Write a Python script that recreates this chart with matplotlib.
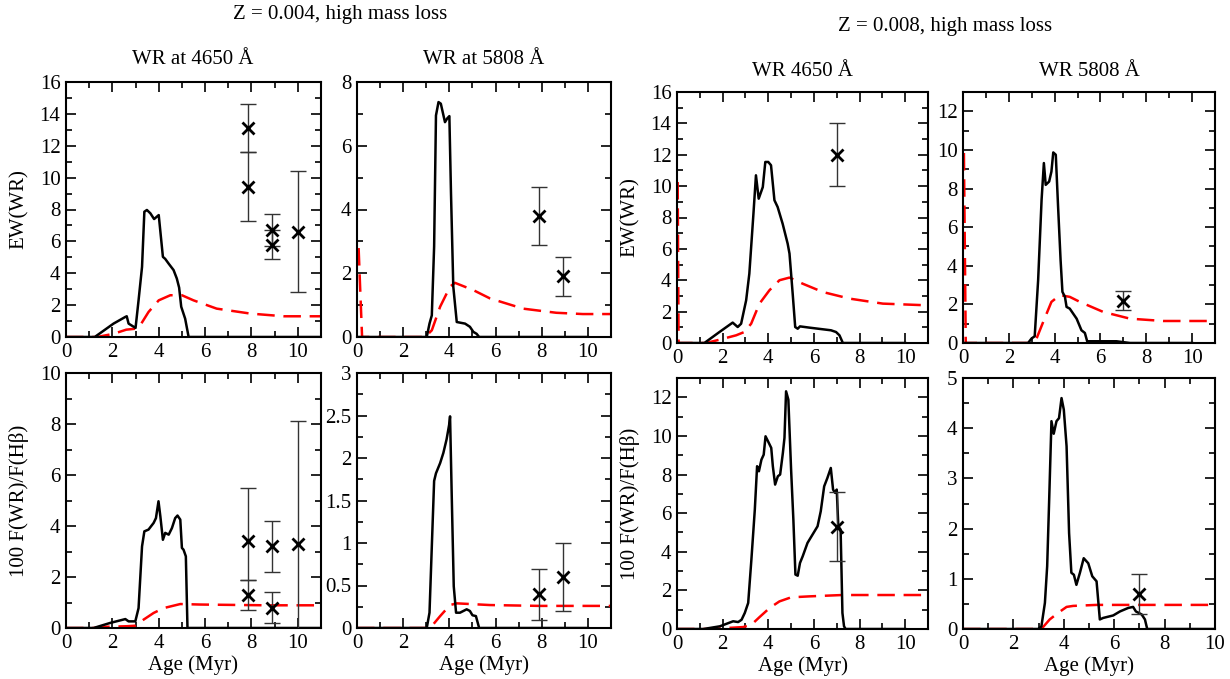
import numpy as np
import matplotlib
matplotlib.use("Agg")
import matplotlib.pyplot as plt
from matplotlib.ticker import MultipleLocator, FuncFormatter

plt.rcParams['font.family'] = ['Liberation Serif', 'DejaVu Serif']
plt.rcParams['font.size'] = 15

# ---- Z = 0.004, EW 4650 ----
a_ew46_z4 = [0, 1.24, 2.05, 2.56, 2.62, 2.7, 3.0, 3.13, 3.28, 3.38, 3.49, 3.64, 3.8, 4.0,
             4.18, 4.28, 4.43, 4.64, 4.78, 4.88, 4.97, 5.14, 5.29, 11]
m_ew46_z4 = [0, 0, 0.84, 1.26, 1.3, 0.84, 0.57, 2.3, 4.4, 7.86, 7.97, 7.76, 7.4, 7.65,
             5.03, 4.9, 4.6, 4.2, 3.67, 3.1, 1.9, 1.15, 0, 0]
ra_ew46_z4 = [0, 1.34, 2.05, 2.6, 3.0, 3.2, 3.56, 4.0, 4.5, 5.0, 5.5, 6.5, 7.95, 9.4, 11]
r_ew46_z4 = [0, 0, 0.2, 0.46, 0.52, 0.73, 1.57, 2.3, 2.62, 2.62, 2.3, 1.78, 1.47, 1.3, 1.3]
ox_ew46_z4 = [7.85, 7.85, 8.9, 8.9, 10.0]
oy_ew46_z4 = [13.1, 9.4, 6.7, 5.8, 6.6]
olo_ew46_z4 = [11.6, 7.3, 5.7, 4.9, 2.8]
ohi_ew46_z4 = [14.6, 11.6, 7.7, 6.7, 10.4]

# ---- Z = 0.004, EW 5808 ----
a_ew58_z4 = [0, 3.02, 3.14, 3.24, 3.34, 3.42, 3.53, 3.63, 3.81, 3.91, 4.0, 4.07, 4.17,
             4.32, 4.68, 4.89, 5.04, 5.18, 5.29, 10]
m_ew58_z4 = [0, 0, 0.42, 0.68, 2.84, 6.95, 7.37, 7.32, 6.74, 6.86, 6.93, 4.53, 1.58,
             0.47, 0.42, 0.32, 0.16, 0.1, 0, 0]
ra_ew58_z4 = [0.07, 0.14, 0.22, 2.95, 3.24, 3.6, 4.03, 4.24, 5.04, 5.76, 7.19, 8.63, 9.78, 11]
r_ew58_z4 = [2.79, 1.47, 0, 0, 0.21, 0.95, 1.58, 1.7, 1.47, 1.21, 0.89, 0.76, 0.72, 0.72]
ox_ew58_z4 = [7.9, 8.9]
oy_ew58_z4 = [3.8, 1.9]
olo_ew58_z4 = [2.9, 1.3]
ohi_ew58_z4 = [4.7, 2.5]

# ---- Z = 0.004, F 4650 ----
a_f46_z4 = [0, 1.19, 1.91, 2.56, 2.7, 2.99, 3.13, 3.28, 3.38, 3.56, 3.78, 3.88, 3.99, 4.07,
            4.18, 4.28, 4.43, 4.57, 4.71, 4.81, 4.93, 5.0, 5.07, 5.17, 5.24, 11]
m_f46_z4 = [0, 0, 0.2, 0.35, 0.26, 0.26, 0.78, 3.2, 3.79, 3.86, 4.12, 4.31, 4.97, 4.38,
            3.46, 3.73, 3.66, 3.92, 4.31, 4.41, 4.25, 3.14, 3.07, 2.81, 0, 0]
ra_f46_z4 = [0, 1.2, 1.48, 2.63, 2.99, 3.35, 3.78, 4.21, 4.93, 5.79, 8.66, 11]
r_f46_z4 = [0, 0, 0.04, 0.07, 0.09, 0.33, 0.59, 0.78, 0.94, 0.92, 0.89, 0.89]
ox_f46_z4 = [7.85, 7.85, 8.9, 8.9, 10.0]
oy_f46_z4 = [3.4, 1.3, 3.2, 0.8, 3.3]
olo_f46_z4 = [1.9, 0.7, 2.2, 0.2, -1.5]
ohi_f46_z4 = [5.5, 1.9, 4.2, 1.4, 8.1]

# ---- Z = 0.004, F 5808 ----
a_f58_z4 = [0, 3.02, 3.14, 3.24, 3.34, 3.42, 3.6, 3.74, 3.88, 3.99, 4.03, 4.1, 4.19, 4.29,
            4.46, 4.75, 4.89, 5.0, 5.15, 5.29, 10]
m_f58_z4 = [0, 0, 0.18, 0.96, 1.73, 1.82, 1.94, 2.06, 2.22, 2.39, 2.49, 1.59, 0.49, 0.18,
            0.18, 0.22, 0.2, 0.15, 0.14, 0, 0]
ra_f58_z4 = [0, 3.17, 3.6, 4.03, 4.32, 5.76, 7.91, 11]
r_f58_z4 = [0, 0, 0.14, 0.27, 0.29, 0.27, 0.26, 0.26]
ox_f58_z4 = [7.9, 8.9]
oy_f58_z4 = [0.4, 0.6]
olo_f58_z4 = [0.1, 0.2]
ohi_f58_z4 = [0.7, 1.0]

# ---- Z = 0.008, EW 4650 ----
a_ew46_z8 = [0, 1.2, 1.86, 2.44, 2.66, 2.81, 3.03, 3.17, 3.35, 3.46, 3.58, 3.76, 3.87, 4.0,
             4.12, 4.27, 4.41, 4.63, 4.85, 4.93, 5.07, 5.18, 5.29, 5.39, 5.8, 6.75, 6.97,
             7.12, 7.27, 10]
m_ew46_z8 = [0, 0, 0.7, 1.3, 1.02, 1.23, 2.72, 4.42, 8.24, 10.69, 9.2, 9.94, 11.54, 11.54,
             11.33, 9.1, 8.67, 7.6, 6.33, 5.7, 3.14, 1.02, 0.91, 1.06, 0.98, 0.81, 0.7,
             0.49, 0, 0]
ra_ew46_z8 = [0.03, 0.07, 1.27, 1.86, 2.59, 2.95, 3.25, 3.61, 4.05, 4.49, 4.93, 5.51, 6.39,
              7.56, 9.02, 11]
r_ew46_z8 = [10.26, 0, 0, 0.21, 0.49, 0.7, 1.23, 2.5, 3.36, 4.0, 4.17, 3.78, 3.25, 2.83,
             2.51, 2.4]
ox_ew46_z8 = [7.0]
oy_ew46_z8 = [12.0]
olo_ew46_z8 = [10.0]
ohi_ew46_z8 = [14.0]

# ---- Z = 0.008, EW 5808 ----
a_ew58_z8 = [0, 2.84, 2.99, 3.13, 3.28, 3.43, 3.53, 3.61, 3.76, 3.86, 3.94, 4.05, 4.15,
             4.26, 4.34, 4.45, 4.52, 4.66, 4.96, 5.17, 5.32, 5.42, 5.83, 6.7, 7.29, 10]
m_ew58_z8 = [0, 0, 0.23, 0.35, 3.26, 7.41, 9.32, 8.19, 8.36, 8.88, 9.87, 9.75, 7.07, 4.29,
             2.65, 2.39, 1.87, 1.78, 1.26, 0.66, 0.52, 0.09, 0.09, 0.09, 0, 0]
ra_ew58_z8 = [0.04, 0.12, 2.92, 3.21, 3.5, 3.86, 4.23, 4.66, 5.1, 6.12, 7.29, 8.75, 11]
r_ew58_z8 = [9.84, 0, 0, 0.23, 1.09, 2.13, 2.48, 2.39, 2.13, 1.61, 1.26, 1.14, 1.14]
ox_ew58_z8 = [7.0]
oy_ew58_z8 = [2.2]
olo_ew58_z8 = [1.7]
ohi_ew58_z8 = [2.7]

# ---- Z = 0.008, F 4650 ----
a_f46_z8 = [0, 1.16, 1.88, 2.46, 2.68, 2.83, 2.97, 3.12, 3.26, 3.41, 3.51, 3.59, 3.7, 3.8,
            3.88, 3.99, 4.13, 4.2, 4.3, 4.42, 4.52, 4.64, 4.71, 4.78, 4.88, 5.0, 5.1, 5.19,
            5.29, 5.39, 5.51, 5.72, 5.94, 6.16, 6.3, 6.45, 6.59, 6.74, 6.84, 6.93, 7.0,
            7.07, 7.17, 7.25, 7.32, 7.39, 10]
m_f46_z8 = [0, 0, 0.14, 0.4, 0.36, 0.48, 0.83, 1.35, 3.59, 6.18, 8.43, 8.17, 8.77, 9.03,
            9.98, 9.72, 9.38, 8.43, 7.48, 7.91, 8.0, 9.12, 9.9, 12.31, 11.88, 8.26, 5.66,
            2.82, 2.76, 3.42, 3.77, 4.46, 4.89, 5.32, 6.1, 7.39, 7.82, 8.34, 7.22, 7.05,
            7.22, 5.32, 5.15, 0.83, 0.14, 0, 0]
ra_f46_z8 = [0, 1.5, 1.88, 2.9, 3.26, 3.62, 4.06, 4.49, 5.0, 5.8, 7.25, 11]
r_f46_z8 = [0, 0, 0.03, 0.1, 0.22, 0.62, 1.09, 1.43, 1.64, 1.69, 1.76, 1.76]
ox_f46_z8 = [7.0]
oy_f46_z8 = [5.3]
olo_f46_z8 = [3.5]
ohi_f46_z8 = [7.1]

# ---- Z = 0.008, F 5808 ----
a_f58_z8 = [0, 2.98, 3.11, 3.25, 3.34, 3.42, 3.51, 3.6, 3.71, 3.81, 3.91, 4.0, 4.11, 4.21,
            4.3, 4.4, 4.5, 4.64, 4.79, 4.97, 5.13, 5.3, 5.43, 5.56, 5.96, 6.23, 6.56, 6.75,
            6.86, 7.09, 7.22, 7.31, 10]
m_f58_z8 = [0, 0, 0.05, 0.52, 1.25, 2.58, 4.14, 3.89, 4.14, 4.2, 4.6, 4.37, 3.64, 1.91,
            1.12, 1.08, 0.88, 1.12, 1.41, 1.31, 1.05, 0.95, 0.19, 0.22, 0.27, 0.35, 0.42,
            0.44, 0.35, 0.29, 0.19, 0, 0]
ra_f58_z8 = [0, 3.11, 3.44, 3.77, 4.11, 4.37, 5.3, 6.62, 10]
r_f58_z8 = [0, 0, 0.19, 0.32, 0.44, 0.46, 0.48, 0.48, 0.48]
ox_f58_z8 = [7.0]
oy_f58_z8 = [0.7]
olo_f58_z8 = [0.3]
ohi_f58_z8 = [1.1]

W, H = 1230, 679
fig = plt.figure(figsize=(W / 100, H / 100), dpi=100)
fmt_g = FuncFormatter(lambda v, pos: '%g' % v)


def add_panel(px, ax_model, model, ax_red, red, ox, oy, olo, ohi,
              xmax, ymax, ymaj, ymin, ylabel=None, xlabel=None):
    x0, y0, x1, y1 = px
    ax = fig.add_axes([x0 / W, 1 - y1 / H, (x1 - x0) / W, (y1 - y0) / H])
    ax.plot(ax_model, model, color='black', lw=1.8, zorder=3)
    ax.plot(ax_red, red, color='red', lw=1.8, dashes=(7, 3.5), zorder=2)
    oy = np.array(oy)
    yerr = [oy - np.array(olo), np.array(ohi) - oy]
    ax.errorbar(ox, oy, yerr=yerr, fmt='none', ecolor='#333333', elinewidth=1.0,
                capsize=6, capthick=1.0, zorder=4)
    ax.plot(ox, oy, 'x', color='black', ms=8, mew=2, zorder=5)
    ax.set_xlim(0, xmax)
    ax.set_ylim(0, ymax)
    ax.xaxis.set_major_locator(MultipleLocator(2))
    ax.xaxis.set_minor_locator(MultipleLocator(1))
    ax.yaxis.set_major_locator(MultipleLocator(ymaj))
    ax.yaxis.set_minor_locator(MultipleLocator(ymin))
    ax.xaxis.set_major_formatter(fmt_g)
    ax.yaxis.set_major_formatter(fmt_g)
    ax.tick_params(which='both', direction='in', top=True, right=True, width=1.2,
                   labelsize=15, pad=4)
    ax.tick_params(which='major', length=7)
    ax.tick_params(which='minor', length=4)
    for s in ax.spines.values():
        s.set_linewidth(1.5)
    if ylabel:
        ax.set_ylabel(ylabel, fontsize=15, labelpad=8)
    if xlabel:
        ax.set_xlabel(xlabel, fontsize=15, labelpad=2)
    return ax


add_panel((66, 82, 321, 337), a_ew46_z4, m_ew46_z4, ra_ew46_z4, r_ew46_z4,
          ox_ew46_z4, oy_ew46_z4, olo_ew46_z4, ohi_ew46_z4, 11, 16, 2, 1, ylabel='EW(WR)')
add_panel((357, 82, 611, 337), a_ew58_z4, m_ew58_z4, ra_ew58_z4, r_ew58_z4,
          ox_ew58_z4, oy_ew58_z4, olo_ew58_z4, ohi_ew58_z4, 11, 8, 2, 1)
add_panel((66, 373, 321, 628), a_f46_z4, m_f46_z4, ra_f46_z4, r_f46_z4,
          ox_f46_z4, oy_f46_z4, olo_f46_z4, ohi_f46_z4, 11, 10, 2, 1,
          ylabel='100 F(WR)/F(Hβ)', xlabel='Age (Myr)')
add_panel((357, 373, 611, 628), a_f58_z4, m_f58_z4, ra_f58_z4, r_f58_z4,
          ox_f58_z4, oy_f58_z4, olo_f58_z4, ohi_f58_z4, 11, 3, 0.5, 0.25, xlabel='Age (Myr)')

add_panel((677, 92, 928, 343), a_ew46_z8, m_ew46_z8, ra_ew46_z8, r_ew46_z8,
          ox_ew46_z8, oy_ew46_z8, olo_ew46_z8, ohi_ew46_z8, 11, 16, 2, 1, ylabel='EW(WR)')
add_panel((963, 92, 1215, 343), a_ew58_z8, m_ew58_z8, ra_ew58_z8, r_ew58_z8,
          ox_ew58_z8, oy_ew58_z8, olo_ew58_z8, ohi_ew58_z8, 11, 13, 2, 1)
add_panel((677, 378, 928, 629), a_f46_z8, m_f46_z8, ra_f46_z8, r_f46_z8,
          ox_f46_z8, oy_f46_z8, olo_f46_z8, ohi_f46_z8, 11, 13, 2, 1,
          ylabel='100 F(WR)/F(Hβ)', xlabel='Age (Myr)')
add_panel((963, 378, 1215, 629), a_f58_z8, m_f58_z8, ra_f58_z8, r_f58_z8,
          ox_f58_z8, oy_f58_z8, olo_f58_z8, ohi_f58_z8, 10, 5, 1, 0.5, xlabel='Age (Myr)')

# group and column titles
fig.text(340 / W, 1 - 15 / H, 'Z = 0.004, high mass loss', ha='center', va='center', fontsize=15)
fig.text(945 / W, 1 - 27 / H, 'Z = 0.008, high mass loss', ha='center', va='center', fontsize=15)
fig.text(193 / W, 1 - 59 / H, 'WR at 4650 Å', ha='center', va='center', fontsize=15)
fig.text(484 / W, 1 - 59 / H, 'WR at 5808 Å', ha='center', va='center', fontsize=15)
fig.text(802 / W, 1 - 72 / H, 'WR 4650 Å', ha='center', va='center', fontsize=15)
fig.text(1089 / W, 1 - 72 / H, 'WR 5808 Å', ha='center', va='center', fontsize=15)

fig.savefig('out.png', dpi=100)
